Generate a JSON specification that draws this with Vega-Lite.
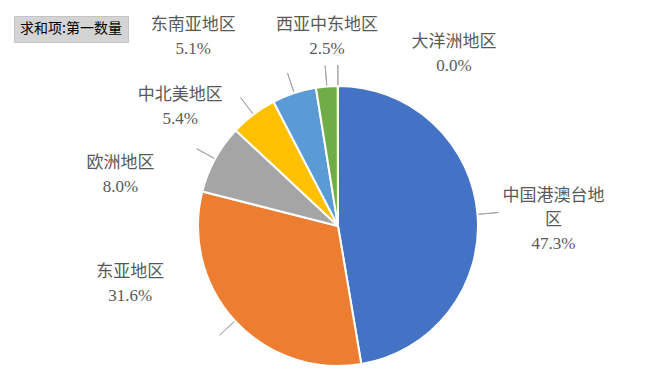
{
  "$schema": "https://vega.github.io/schema/vega-lite/v6.json",
  "width": 600,
  "height": 300,
  "autosize": "none",
  "padding": {"left": 38, "top": 76, "right": 9, "bottom": 1},
  "background": "white",
  "config": {"view": {"stroke": null}},
  "data": {"values": [
    {"region": "中国港澳台地区", "value": 47.3, "rank": 1, "label": "中国港澳台地\n区\n47.3%"},
    {"region": "东亚地区", "value": 31.6, "rank": 2, "label": "东亚地区\n31.6%"},
    {"region": "欧洲地区", "value": 8.0, "rank": 3, "label": "欧洲地区\n8.0%"},
    {"region": "中北美地区", "value": 5.4, "rank": 4, "label": "中北美地区\n5.4%"},
    {"region": "东南亚地区", "value": 5.1, "rank": 5, "label": "东南亚地区\n5.1%"},
    {"region": "西亚中东地区", "value": 2.5, "rank": 6, "label": "西亚中东地区\n2.5%"},
    {"region": "大洋洲地区", "value": 0.02, "rank": 7, "label": "大洋洲地区\n0.0%"}
  ]},
  "transform": [
    {"stack": "value", "groupby": [], "sort": [{"field": "rank", "order": "ascending"}], "as": ["s0", "s1"]}
  ],
  "layer": [
    {
      "mark": {"type": "arc", "outerRadius": 140, "stroke": "white", "strokeWidth": 2},
      "encoding": {
        "theta": {"field": "s0", "type": "quantitative", "stack": null, "scale": {"domain": [0, 99.92]}},
        "theta2": {"field": "s1"},
        "color": {
          "field": "region", "type": "nominal",
          "scale": {
            "domain": ["中国港澳台地区", "东亚地区", "欧洲地区", "中北美地区", "东南亚地区", "西亚中东地区", "大洋洲地区"],
            "range": ["#4472C4", "#ED7D31", "#A5A5A5", "#FFC000", "#5B9BD5", "#70AD47", "#264478"]
          },
          "legend": {
            "values": [],
            "title": "求和项:第一数量",
            "orient": "none",
            "legendX": -24,
            "legendY": -60,
            "titleFont": "Noto Sans CJK SC",
            "titleFontSize": 14,
            "titleFontWeight": "normal",
            "titleColor": "#000000",
            "titlePadding": 0,
            "fillColor": "#d4d4d4",
            "strokeColor": "#c4c4c4",
            "padding": 6
          }
        }
      }
    },
    {
      "transform": [
        {"fold": ["s0", "s1"], "as": ["k", "ang"]},
        {"aggregate": [{"op": "mean", "field": "ang", "as": "mid"}], "groupby": ["region", "label"]}
      ],
      "layer": [
        {
          "mark": {"type": "arc", "innerRadius": 141, "outerRadius": 161, "filled": false, "color": "#a6a6a6", "strokeWidth": 1},
          "encoding": {
            "theta": {"field": "mid", "type": "quantitative", "stack": null, "scale": {"domain": [0, 99.92]}},
            "theta2": {"field": "mid"}
          }
        },
        {
          "transform": [{"filter": "datum.region === '中国港澳台地区'"}],
          "mark": {"type": "text", "radius": 175, "dx": 41, "dy": -15, "align": "center", "baseline": "middle", "lineBreak": "\n", "lineHeight": 24, "font": "Liberation Serif, Noto Sans CJK SC", "fontSize": 17, "color": "#595959"},
          "encoding": {
            "theta": {"field": "mid", "type": "quantitative", "stack": null, "scale": {"domain": [0, 99.92]}},
            "text": {"field": "label"}
          }
        },
        {
          "transform": [{"filter": "datum.region === '东亚地区'"}],
          "mark": {"type": "text", "radius": 175, "dx": -79, "dy": -73, "align": "center", "baseline": "middle", "lineBreak": "\n", "lineHeight": 24, "font": "Liberation Serif, Noto Sans CJK SC", "fontSize": 17, "color": "#595959"},
          "encoding": {
            "theta": {"field": "mid", "type": "quantitative", "stack": null, "scale": {"domain": [0, 99.92]}},
            "text": {"field": "label"}
          }
        },
        {
          "transform": [{"filter": "datum.region === '欧洲地区'"}],
          "mark": {"type": "text", "radius": 175, "dx": -64, "dy": 21, "align": "center", "baseline": "middle", "lineBreak": "\n", "lineHeight": 24, "font": "Liberation Serif, Noto Sans CJK SC", "fontSize": 17, "color": "#595959"},
          "encoding": {
            "theta": {"field": "mid", "type": "quantitative", "stack": null, "scale": {"domain": [0, 99.92]}},
            "text": {"field": "label"}
          }
        },
        {
          "transform": [{"filter": "datum.region === '中北美地区'"}],
          "mark": {"type": "text", "radius": 175, "dx": -52, "dy": 8, "align": "center", "baseline": "middle", "lineBreak": "\n", "lineHeight": 24, "font": "Liberation Serif, Noto Sans CJK SC", "fontSize": 17, "color": "#595959"},
          "encoding": {
            "theta": {"field": "mid", "type": "quantitative", "stack": null, "scale": {"domain": [0, 99.92]}},
            "text": {"field": "label"}
          }
        },
        {
          "transform": [{"filter": "datum.region === '东南亚地区'"}],
          "mark": {"type": "text", "radius": 175, "dx": -90, "dy": -35, "align": "center", "baseline": "middle", "lineBreak": "\n", "lineHeight": 24, "font": "Liberation Serif, Noto Sans CJK SC", "fontSize": 17, "color": "#595959"},
          "encoding": {
            "theta": {"field": "mid", "type": "quantitative", "stack": null, "scale": {"domain": [0, 99.92]}},
            "text": {"field": "label"}
          }
        },
        {
          "transform": [{"filter": "datum.region === '西亚中东地区'"}],
          "mark": {"type": "text", "radius": 175, "dx": 3, "dy": -27, "align": "center", "baseline": "middle", "lineBreak": "\n", "lineHeight": 24, "font": "Liberation Serif, Noto Sans CJK SC", "fontSize": 17, "color": "#595959"},
          "encoding": {
            "theta": {"field": "mid", "type": "quantitative", "stack": null, "scale": {"domain": [0, 99.92]}},
            "text": {"field": "label"}
          }
        },
        {
          "transform": [{"filter": "datum.region === '大洋洲地区'"}],
          "mark": {"type": "text", "radius": 175, "dx": 116, "dy": -9, "align": "center", "baseline": "middle", "lineBreak": "\n", "lineHeight": 24, "font": "Liberation Serif, Noto Sans CJK SC", "fontSize": 17, "color": "#595959"},
          "encoding": {
            "theta": {"field": "mid", "type": "quantitative", "stack": null, "scale": {"domain": [0, 99.92]}},
            "text": {"field": "label"}
          }
        }
      ]
    }
  ]
}
